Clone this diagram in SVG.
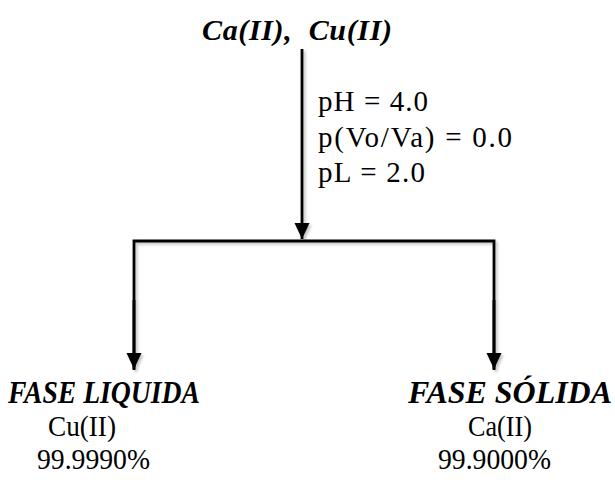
<svg xmlns="http://www.w3.org/2000/svg" width="615" height="480" viewBox="0 0 615 480">
  <style>
    .bi { font-family: "Liberation Serif", "Times New Roman", serif; font-weight: bold; font-style: italic; fill: #000; }
    .rg { font-family: "Liberation Serif", "Times New Roman", serif; fill: #000; }
    .ln { fill: none; stroke: #000; stroke-width: 2.8; }
  </style>
  <defs>
    <marker id="arr" markerUnits="userSpaceOnUse" markerWidth="16" markerHeight="16" refX="16" refY="7.5" orient="auto">
      <path d="M0,0 L16,7.5 L0,15 Z" fill="#000"/>
    </marker>
    <filter id="sh" x="-10%" y="-10%" width="120%" height="130%">
      <feGaussianBlur in="SourceAlpha" stdDeviation="1.5"/>
      <feOffset dx="1.5" dy="2" result="b"/>
      <feComponentTransfer><feFuncA type="linear" slope="0.25"/></feComponentTransfer>
      <feMerge><feMergeNode/><feMergeNode in="SourceGraphic"/></feMerge>
    </filter>
  </defs>
  <rect width="615" height="480" fill="#fff"/>

  <g id="connectors" filter="url(#sh)">
    <line class="ln" x1="302" y1="49" x2="302" y2="239" marker-end="url(#arr)"/>
    <polyline class="ln" points="134,370 134,241 494,241 494,370"/>
    <line class="ln" x1="134" y1="300" x2="134" y2="369" marker-end="url(#arr)"/>
    <line class="ln" x1="494" y1="300" x2="494" y2="369" marker-end="url(#arr)"/>
  </g>

  <g id="source">
    <text class="bi" x="202" y="40" font-size="30" textLength="190" lengthAdjust="spacing" xml:space="preserve">Ca(II),  Cu(II)</text>
  </g>

  <g id="conditions">
    <text class="rg" x="318" y="111" font-size="29" textLength="110" lengthAdjust="spacing">pH = 4.0</text>
    <text class="rg" x="318" y="147" font-size="29" textLength="194" lengthAdjust="spacing">p(Vo/Va) = 0.0</text>
    <text class="rg" x="318" y="182" font-size="29" textLength="107" lengthAdjust="spacing">pL = 2.0</text>
  </g>

  <g id="liquid">
    <text class="bi" x="8" y="403" font-size="31" textLength="192" lengthAdjust="spacingAndGlyphs">FASE LIQUIDA</text>
    <text class="rg" x="48" y="436" font-size="30" textLength="68" lengthAdjust="spacingAndGlyphs">Cu(II)</text>
    <text class="rg" x="37" y="469" font-size="30" textLength="113" lengthAdjust="spacingAndGlyphs">99.9990%</text>
  </g>

  <g id="solid">
    <text class="bi" x="408" y="403" font-size="31" textLength="204" lengthAdjust="spacingAndGlyphs">FASE SÓLIDA</text>
    <text class="rg" x="468" y="436" font-size="30" textLength="64" lengthAdjust="spacingAndGlyphs">Ca(II)</text>
    <text class="rg" x="438" y="469" font-size="30" textLength="113" lengthAdjust="spacingAndGlyphs">99.9000%</text>
  </g>
</svg>
